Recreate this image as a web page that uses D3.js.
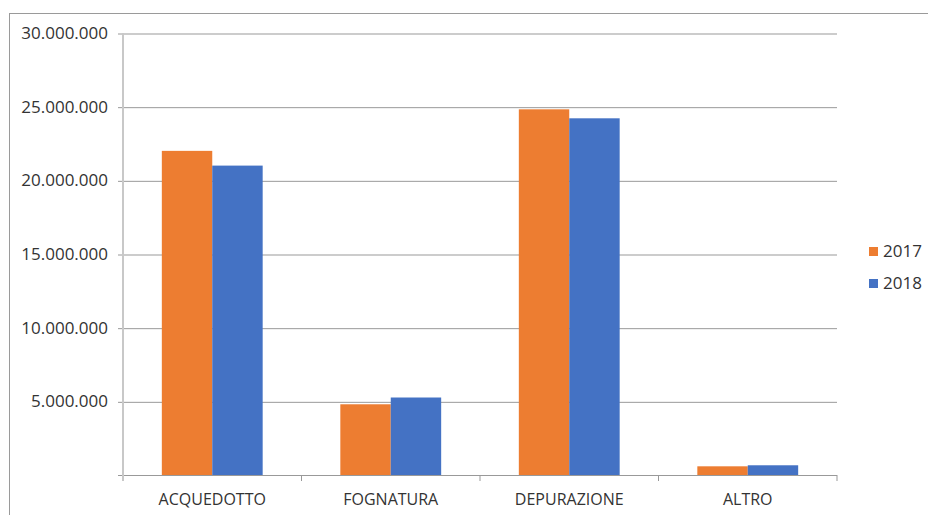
<!DOCTYPE html>
<html>
<head>
<meta charset="utf-8">
<script src="https://cdn.jsdelivr.net/npm/d3@7"></script>
<style>
  body { margin: 0; background: #fff; }
  svg text { font-family: "Open Sans", sans-serif; fill: #333; }
</style>
</head>
<body>
<div id="chart"></div>
<script>
var categories = ["ACQUEDOTTO", "FOGNATURA", "DEPURAZIONE", "ALTRO"];
var years = ["2017", "2018"];
var values2017 = [22000000, 4800000, 24820000, 590000];
var values2018 = [21000000, 5260000, 24210000, 660000];
var yTicks = [5000000, 10000000, 15000000, 20000000, 25000000, 30000000];
var colors = ["#ED7D31", "#4472C4"];

var width = 928, height = 515;
var margin = {top: 33, left: 123, right: 91, bottom: 40};

var svg = d3.select("#chart").append("svg")
    .attr("width", width)
    .attr("height", height);

// outer frame
svg.append("rect")
    .attr("x", 9.5).attr("y", 13.5)
    .attr("width", 1000).attr("height", 1000)
    .attr("fill", "none")
    .attr("stroke", "#9a9a9a")
    .attr("stroke-width", 1);

var x0 = d3.scaleBand()
    .domain(categories)
    .range([margin.left, width - margin.right])
    .padding(0);

var x1 = d3.scaleBand()
    .domain(years)
    .range([0, x0.bandwidth()])
    .paddingInner(0)
    .paddingOuter(0.77);

var y = d3.scaleLinear()
    .domain([0, 30000000])
    .range([height - margin.bottom, margin.top]);

var fmt = function (v) {
    return d3.format(",")(v).replace(/,/g, ".");
};

// gridlines + y labels
var yAxis = d3.axisLeft(y)
    .tickValues(yTicks)
    .tickSize(-(width - margin.left - margin.right) - 5)
    .tickPadding(10)
    .tickFormat(fmt);

var gy = svg.append("g")
    .attr("transform", "translate(" + (margin.left - 5) + ",0)")
    .call(yAxis);
gy.select(".domain").remove();
gy.selectAll(".tick line")
    .attr("stroke", "#999")
    .attr("stroke-width", 1)
    .attr("transform", "translate(0,0.5)");
gy.selectAll(".tick text")
    .attr("x", -10)
    .style("font-size", "17px");

// bars
var data = categories.map(function (c, i) {
    return { cat: c, vals: [
        { year: years[0], value: values2017[i] },
        { year: years[1], value: values2018[i] }
    ]};
});

var groups = svg.selectAll(".grp")
    .data(data)
    .enter().append("g")
    .attr("class", "grp")
    .attr("transform", function (d) { return "translate(" + x0(d.cat) + ",0)"; });

groups.selectAll("rect")
    .data(function (d) { return d.vals; })
    .enter().append("rect")
    .attr("x", function (d) { return x1(d.year); })
    .attr("width", x1.bandwidth())
    .attr("y", function (d) { return y(d.value); })
    .attr("height", function (d) { return y(0) - y(d.value); })
    .attr("fill", function (d, i) { return colors[i]; });

// x axis
var y0 = y(0);
svg.append("line")
    .attr("x1", margin.left - 5).attr("x2", width - margin.right)
    .attr("y1", y0 + 0.5).attr("y2", y0 + 0.5)
    .attr("stroke", "#999");

var xAxis = d3.axisBottom(x0).tickSize(0).tickPadding(19);
var gx = svg.append("g")
    .attr("transform", "translate(0," + y0 + ")")
    .call(xAxis);
gx.select(".domain").remove();
gx.selectAll(".tick text").style("font-size", "16px");

// category separators
var seps = categories.map(function (c) { return x0(c); }).concat([width - margin.right]);
svg.selectAll(".sep")
    .data(seps.slice(1))
    .enter().append("line")
    .attr("class", "sep")
    .attr("x1", function (d) { return d; }).attr("x2", function (d) { return d; })
    .attr("y1", y0).attr("y2", y0 + 6)
    .attr("stroke", "#999");

// y axis line
svg.append("line")
    .attr("x1", margin.left).attr("x2", margin.left)
    .attr("y1", margin.top).attr("y2", y0 + 6)
    .attr("stroke", "#c8c8c8")
    .attr("stroke-width", 2);

// legend
var legend = svg.selectAll(".leg")
    .data(years)
    .enter().append("g")
    .attr("class", "leg")
    .attr("transform", function (d, i) { return "translate(869," + (247 + i * 32) + ")"; });
legend.append("rect")
    .attr("width", 9).attr("height", 9)
    .attr("fill", function (d, i) { return colors[i]; });
legend.append("text")
    .attr("x", 14).attr("y", 4.5)
    .attr("dy", "0.35em")
    .style("font-size", "17px")
    .text(function (d) { return d; });
</script>
</body>
</html>
